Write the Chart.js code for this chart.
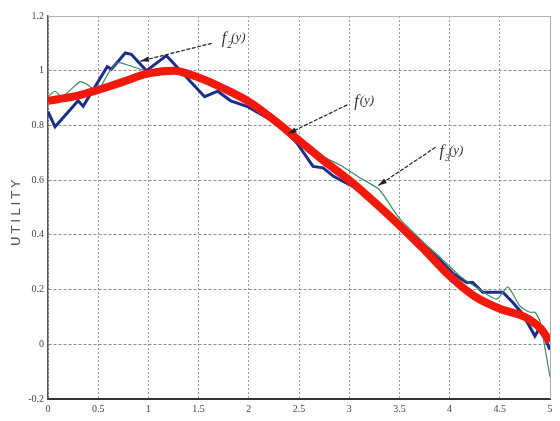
<!DOCTYPE html>
<html>
<head>
<meta charset="utf-8">
<script src="https://cdn.jsdelivr.net/npm/chart.js@4.4.1/dist/chart.umd.min.js"></script>
<style>
  body { margin: 0; background: #fff; }
  #wrap { width: 560px; height: 421px; }
</style>
</head>
<body>
<div id="wrap"><canvas id="utilityChart" width="560" height="421"></canvas></div>
<script>
// tick values
const xTickValues = [0, 0.5, 1, 1.5, 2, 2.5, 3, 3.5, 4, 4.5, 5];
const yTickValues = [-0.2, 0, 0.2, 0.4, 0.6, 0.8, 1, 1.2];

// f3(y) - smooth red curve
const redX = [0, 0.25, 0.5, 0.75, 1, 1.25, 1.5, 1.75, 2, 2.25, 2.5, 2.75, 3, 3.25, 3.5, 3.75, 4, 4.25, 4.5, 4.75, 4.9, 5];
const redY = [0.89, 0.905, 0.93, 0.96, 0.99, 1.0, 0.975, 0.935, 0.887, 0.82, 0.745, 0.67, 0.60, 0.52, 0.435, 0.345, 0.25, 0.175, 0.13, 0.10, 0.06, 0.01];

// f2(y) - jagged blue curve
const blueX = [0, 0.07, 0.3, 0.35, 0.59, 0.63, 0.77, 0.83, 0.98, 1.18, 1.56, 1.69, 1.82, 1.98, 2.15, 2.31, 2.48, 2.64, 2.74, 2.84, 2.94, 3.18, 3.5, 3.75, 3.9, 4.03, 4.17, 4.23, 4.33, 4.43, 4.53, 4.63, 4.73, 4.85, 4.9, 5];
const blueY = [0.85, 0.795, 0.89, 0.87, 1.015, 1.005, 1.065, 1.06, 1.0, 1.055, 0.905, 0.925, 0.89, 0.87, 0.835, 0.80, 0.735, 0.65, 0.645, 0.615, 0.595, 0.55, 0.445, 0.36, 0.31, 0.26, 0.226, 0.226, 0.19, 0.19, 0.19, 0.153, 0.11, 0.03, 0.062, -0.02];

// f(y) - thin green curve
const greenX = [0, 0.07, 0.14, 0.32, 0.39, 0.49, 0.6, 0.69, 0.8, 0.98, 1.2, 1.5, 1.75, 2, 2.25, 2.5, 2.75, 2.91, 3.1, 3.3, 3.5, 3.75, 3.9, 4.1, 4.3, 4.47, 4.58, 4.7, 4.8, 4.85, 4.9, 5];
const greenY = [0.905, 0.925, 0.905, 0.96, 0.95, 0.925, 0.99, 1.03, 1.02, 1.0, 1.01, 0.975, 0.94, 0.895, 0.83, 0.76, 0.685, 0.655, 0.61, 0.565, 0.46, 0.37, 0.32, 0.25, 0.2, 0.165, 0.21, 0.14, 0.117, 0.117, 0.085, -0.12];

// labels with arrows (data units)
const notes = [
  { sub: '2', lx: 1.73, ly: 1.10, fx: 1.63, fy: 1.10, tx: 0.92, ty: 1.035 },
  { sub: '',  lx: 3.05, ly: 0.87, fx: 2.98, fy: 0.875, tx: 2.39, ty: 0.77 },
  { sub: '3', lx: 3.9,  ly: 0.69, fx: 3.86, fy: 0.72, tx: 3.29, ty: 0.58 }
];

const toPoints = (xs, ys) => xs.map((v, i) => ({ x: v, y: ys[i] }));
const fmt = v => String(Math.round(v * 10) / 10);

// Rótulo del eje, flechas y borde del área
const extrasPlugin = {
  id: 'extras',
  afterDraw(chart) {
    const { ctx, chartArea, scales } = chart;
    ctx.save();
    ctx.strokeStyle = '#b0b0b0';
    ctx.lineWidth = 1;
    ctx.beginPath();
    ctx.moveTo(chartArea.left, chartArea.top + 0.5);
    ctx.lineTo(chartArea.right + 0.5, chartArea.top + 0.5);
    ctx.lineTo(chartArea.right + 0.5, chartArea.bottom);
    ctx.stroke();

    // título del eje y
    ctx.translate(17, (chartArea.top + chartArea.bottom) / 2 + 4);
    ctx.rotate(-Math.PI / 2);
    ctx.font = '13px "DejaVu Sans"';
    ctx.letterSpacing = '3px';
    ctx.fillStyle = '#555';
    ctx.textAlign = 'center';
    ctx.textBaseline = 'middle';
    ctx.fillText('UTILITY', 0, 0);
    ctx.restore();

    notes.forEach(n => {
      const fx = scales.x.getPixelForValue(n.fx), fy = scales.y.getPixelForValue(n.fy);
      const tx = scales.x.getPixelForValue(n.tx), ty = scales.y.getPixelForValue(n.ty);
      const ang = Math.atan2(ty - fy, tx - fx);
      ctx.save();
      ctx.strokeStyle = '#222';
      ctx.fillStyle = '#222';
      ctx.lineWidth = 1.2;
      ctx.setLineDash([4, 1.5]);
      ctx.beginPath();
      ctx.moveTo(fx, fy);
      ctx.lineTo(tx, ty);
      ctx.stroke();
      ctx.setLineDash([]);
      ctx.beginPath();
      ctx.moveTo(tx, ty);
      ctx.lineTo(tx - 9 * Math.cos(ang - 0.3), ty - 9 * Math.sin(ang - 0.3));
      ctx.lineTo(tx - 9 * Math.cos(ang + 0.3), ty - 9 * Math.sin(ang + 0.3));
      ctx.closePath();
      ctx.fill();

      // texto f_n(y)
      let px = scales.x.getPixelForValue(n.lx), py = scales.y.getPixelForValue(n.ly);
      ctx.textBaseline = 'alphabetic';
      ctx.textAlign = 'left';
      ctx.fillStyle = '#333';
      ctx.font = 'italic 16px "Liberation Serif"';
      ctx.fillText('f', px, py);
      px += ctx.measureText('f').width + 1;
      if (n.sub) {
        ctx.font = 'italic 10px "Liberation Serif"';
        ctx.fillText(n.sub, px, py + 5);
      }
      ctx.font = 'italic 13px "Liberation Serif"';
      ctx.fillText('(y)', px + (n.sub ? 4 : 0), py - 2);
      ctx.restore();
    });
  }
};

const utilityChart = new Chart(document.getElementById('utilityChart').getContext('2d'), {
  type: 'line',
  data: {
    datasets: [
      {
        label: 'f3(y)',
        data: toPoints(redX, redY),
        borderColor: '#f2190c',
        borderWidth: 8,
        tension: 0.4,
        cubicInterpolationMode: 'monotone',
        pointRadius: 0,
        order: 0
      },
      {
        label: 'f2(y)',
        data: toPoints(blueX, blueY),
        borderColor: '#1c2c8c',
        borderWidth: 3,
        tension: 0,
        pointRadius: 0,
        order: 2
      },
      {
        label: 'f(y)',
        data: toPoints(greenX, greenY),
        borderColor: '#3f8a66',
        borderWidth: 1.2,
        tension: 0.2,
        pointRadius: 0,
        order: 1
      }
    ]
  },
  options: {
    responsive: false,
    animation: false,
    layout: { padding: { left: 0, top: 16, right: 10, bottom: 0 } },
    plugins: {
      legend: { display: false },
      tooltip: { enabled: false }
    },
    scales: {
      x: {
        type: 'linear',
        min: 0,
        max: 5,
        afterBuildTicks: s => { s.ticks = xTickValues.map(v => ({ value: v })); },
        afterFit: s => { s.height = 22; },
        grid: { color: '#9a9a9a', drawTicks: false },
        border: { color: '#333', width: 2, dash: [2, 2] },
        ticks: { color: '#444', padding: 4, callback: fmt, font: { family: 'Liberation Serif', size: 10 } }
      },
      y: {
        type: 'linear',
        min: -0.2,
        max: 1.2,
        afterBuildTicks: s => { s.ticks = yTickValues.map(v => ({ value: v })); },
        afterFit: s => { s.width = 48; },
        grid: { color: '#8a8a8a', drawTicks: false },
        border: { color: '#555', width: 1.5, dash: [3, 2] },
        ticks: { color: '#444', padding: 4, callback: fmt, font: { family: 'Liberation Serif', size: 10 } }
      }
    }
  },
  plugins: [extrasPlugin]
});
</script>
</body>
</html>
